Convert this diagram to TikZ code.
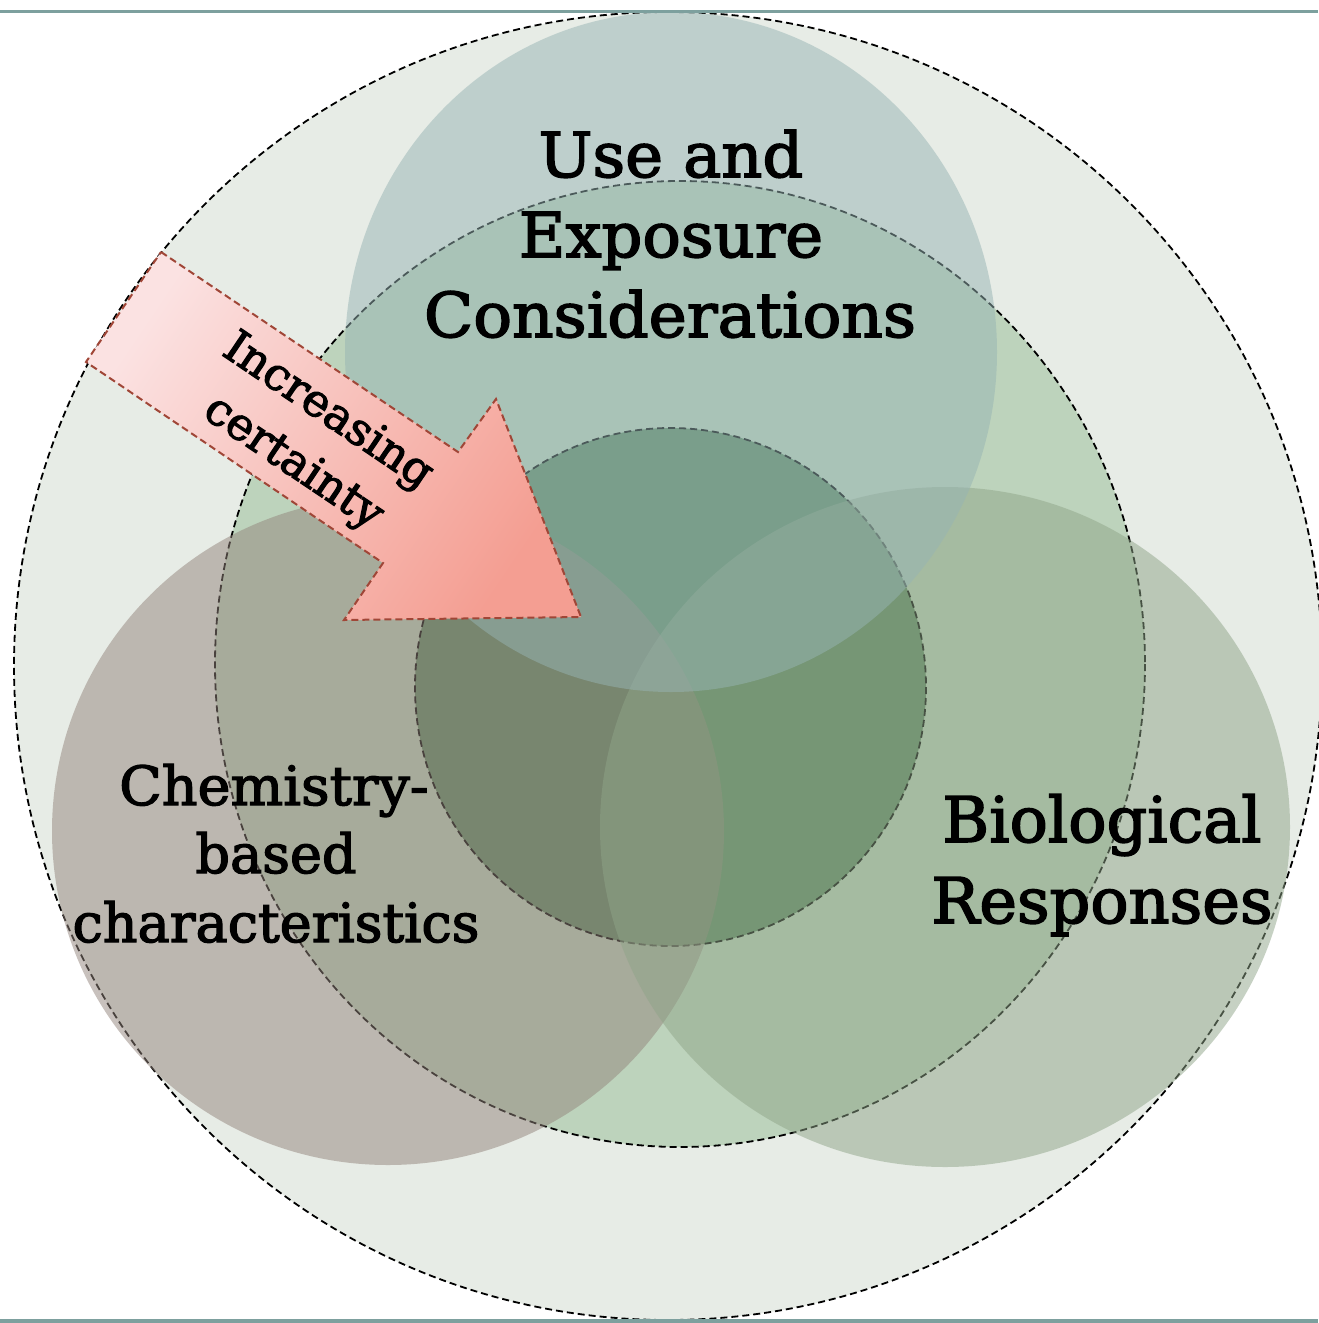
\documentclass[tikz,border=0pt]{standalone}
\usepackage{fontspec}
\setmainfont[FakeBold=2.4]{DejaVu Serif}
\usepackage{graphicx}

\definecolor{rulecol}{RGB}{125,160,158}
\definecolor{outerfill}{RGB}{231,236,230}
\definecolor{midfill}{RGB}{189,211,188}
\definecolor{corefill}{RGB}{93,137,98}
\definecolor{usecol}{RGB}{151,180,180}
\definecolor{chemcol}{RGB}{147,132,124}
\definecolor{biocol}{RGB}{143,164,136}
\definecolor{arrowlight}{RGB}{251,226,226}
\definecolor{arrowdark}{RGB}{244,158,146}
\definecolor{arrowedge}{RGB}{160,70,55}

\begin{document}
\begin{tikzpicture}[x=1pt,y=-1pt,
  ring/.style={line width=1.8pt,dash pattern=on 7pt off 4pt},
  areafill/.style={fill opacity=0.5,draw=none},
  bigtext/.style={inner sep=0pt,anchor=base,font=\fontsize{62}{80}\selectfont},
  chemtext/.style={inner sep=0pt,anchor=base,font=\fontsize{54}{68}\selectfont},
  biotext/.style={inner sep=0pt,anchor=base,font=\fontsize{63}{80}\selectfont}]
\useasboundingbox (0,0) rectangle (1318,1323);
\fill[white] (0,0) rectangle (1318,1323);

% outer envelope and the two nested dashed rings
\draw[ring,fill=outerfill] (668,666) circle [radius=654];
\draw[ring,fill=midfill] (680,664) ellipse [x radius=465, y radius=483];
\draw[ring,fill=corefill] (670.5,687) ellipse [x radius=255.5, y radius=259];

% the three translucent domains
\fill[areafill,fill=chemcol] (388,831) ellipse [x radius=336, y radius=334];
\fill[areafill,fill=biocol] (945,827) ellipse [x radius=345, y radius=340];
\fill[areafill,fill=usecol] (671,352) ellipse [x radius=326, y radius=340];

% rules at top and bottom
\draw[rulecol,line width=3pt] (0,11) -- (1318,11);
\draw[rulecol,line width=4pt] (0,1321) -- (1318,1321);

% domain labels
\node[bigtext] (use1) at (671,177) {\scalebox{1.03}[1]{Use and}};
\node[bigtext] (use2) at (671,257) {\scalebox{1.03}[1]{Exposure}};
\node[bigtext] (use3) at (670,337) {\scalebox{1.04}[1]{Considerations}};
\node[chemtext] (chem1) at (274,805) {\scalebox{1.03}[1]{Chemistry-}};
\node[chemtext] (chem2) at (276,873) {based};
\node[chemtext] (chem3) at (276,942) {characteristics};
\node[biotext] (bio1) at (1102,842) {\scalebox{1.01}[1]{Biological}};
\node[biotext] (bio2) at (1102,923) {\scalebox{1.01}[1]{Responses}};

% certainty arrow
\shadedraw[left color=arrowlight,right color=arrowdark,shading angle=56,
  draw=arrowedge,line width=2pt,dash pattern=on 7pt off 4pt,line join=miter]
  (161,252) -- (458,452) -- (496,399) -- (581,617) -- (344,620) -- (383,563) -- (86,362) -- cycle;
\node[rotate=-34,align=center,inner sep=0pt,
  font=\fontsize{45}{62}\selectfont] (certainty) at (310,438) {Increasing\\certainty};
\end{tikzpicture}
\end{document}
